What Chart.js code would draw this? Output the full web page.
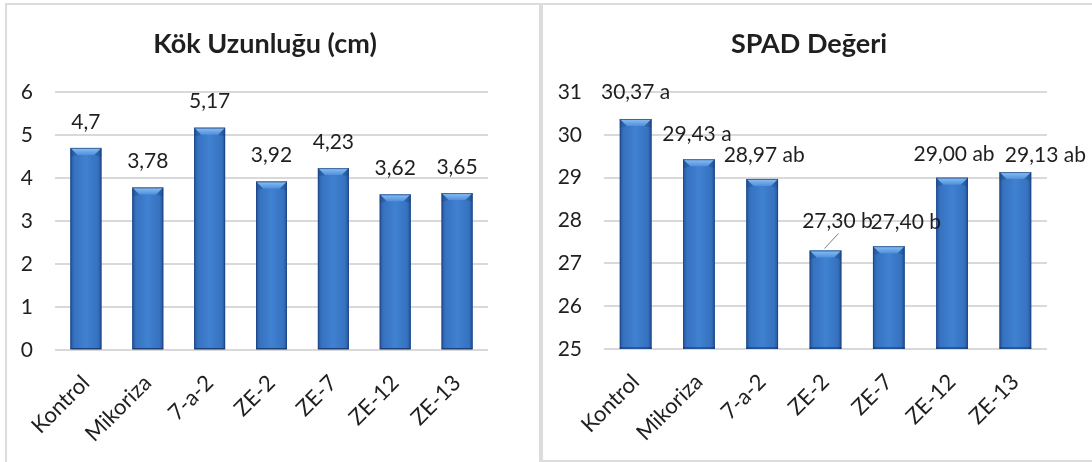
<!DOCTYPE html>
<html>
<head>
<meta charset="utf-8">
<script src="https://cdn.jsdelivr.net/npm/chart.js@4.4.1/dist/chart.umd.min.js"></script>
<style>
  html, body { margin: 0; padding: 0; background: #fff; width: 1092px; height: 462px; overflow: hidden; }
  .panel { position: absolute; top: 3px; border: 2px solid #dcdcdc; box-sizing: border-box; background: #fff; }
  #left { left: 5px; width: 536px; height: 480px; }
  #right { left: 541px; width: 580px; height: 459px; }
  canvas { position: absolute; left: 0; top: 0; display: block; }
</style>
</head>
<body>
<div class="panel" id="left"><canvas id="kok" width="532" height="457"></canvas></div>
<div class="panel" id="right"><canvas id="spad" width="549" height="454"></canvas></div>
<script>
const treatments = ['Kontrol', 'Mikoriza', '7-a-2', 'ZE-2', 'ZE-7', 'ZE-12', 'ZE-13'];
const rootLength = [4.7, 3.78, 5.17, 3.92, 4.23, 3.62, 3.65];
const spadValues = [30.37, 29.43, 28.97, 27.30, 27.40, 29.00, 29.13];
const spadGroups = ['a', 'a', 'ab', 'b', 'b', 'ab', 'ab'];
const kokTicks = [0, 1, 2, 3, 4, 5, 6];
const spadTicks = [25, 26, 27, 28, 29, 30, 31];

const FONT = 'Lato, "Open Sans", sans-serif';
const INK = '#1f1f1f';

// Excel-style bevelled column, painted over the rectangle Chart.js lays out
function paintBar(ctx, bar) {
  const l = bar.x - bar.width / 2, r = bar.x + bar.width / 2;
  const t = bar.y, b = bar.base, w = r - l;
  const bev = Math.min(7, (b - t) / 2);

  const body = ctx.createLinearGradient(l, 0, r, 0);
  body.addColorStop(0, '#25579f');
  body.addColorStop(0.12, '#3672c0');
  body.addColorStop(0.5, '#4081d1');
  body.addColorStop(0.88, '#3672c0');
  body.addColorStop(1, '#24549b');
  ctx.fillStyle = body;
  ctx.fillRect(l, t, w, b - t);

  const top = ctx.createLinearGradient(0, t, 0, t + bev);
  top.addColorStop(0, '#8dc1f3');
  top.addColorStop(1, '#4f8fdc');
  ctx.beginPath();
  ctx.moveTo(l, t); ctx.lineTo(r, t); ctx.lineTo(r - bev, t + bev); ctx.lineTo(l + bev, t + bev);
  ctx.closePath();
  ctx.fillStyle = top;
  ctx.fill();

  ctx.fillStyle = 'rgba(20, 50, 105, 0.25)';
  ctx.beginPath(); ctx.moveTo(l, t); ctx.lineTo(l + bev, t + bev); ctx.lineTo(l, t + bev + 2); ctx.closePath(); ctx.fill();
  ctx.beginPath(); ctx.moveTo(r, t); ctx.lineTo(r - bev, t + bev); ctx.lineTo(r, t + bev + 2); ctx.closePath(); ctx.fill();

  ctx.strokeStyle = 'rgba(28, 66, 125, 0.7)';
  ctx.lineWidth = 1;
  ctx.strokeRect(l + 0.5, t + 0.5, w - 1, b - t - 1);
}

const bevelPlugin = {
  id: 'bevel',
  afterDatasetsDraw(chart) {
    const ctx = chart.ctx;
    const a = chart.chartArea;
    ctx.save();
    ctx.beginPath();
    ctx.rect(a.left, a.top - 20, a.right - a.left, a.bottom - a.top + 20);
    ctx.clip();
    chart.getDatasetMeta(0).data.forEach(bar => paintBar(ctx, bar));
    // dark rim along the floor of every column
    ctx.fillStyle = 'rgba(18, 42, 85, 0.45)';
    chart.getDatasetMeta(0).data.forEach(bar => {
      ctx.fillRect(bar.x - bar.width / 2, a.bottom - 2, bar.width, 2);
    });
    ctx.restore();
  }
};

const valueLabelPlugin = {
  id: 'valueLabels',
  afterDatasetsDraw(chart, args, opts) {
    const ctx = chart.ctx;
    const ds = chart.data.datasets[0];
    ctx.save();
    ctx.font = '21px ' + FONT;
    ctx.fillStyle = INK;
    ctx.textAlign = 'center';
    ctx.textBaseline = 'middle';
    chart.getDatasetMeta(0).data.forEach((bar, i) => {
      const [dx, dy] = opts.offsets[i];
      const x = bar.x + dx, y = bar.y + dy;
      ctx.fillText(opts.format(ds.data[i], i), x, y);
      if (opts.leaders && opts.leaders.includes(i)) {
        ctx.strokeStyle = '#7f7f7f';
        ctx.lineWidth = 1;
        ctx.beginPath();
        ctx.moveTo(x + 1, y + 12);
        ctx.lineTo(bar.x - 1, bar.y - 2);
        ctx.stroke();
      }
    });
    ctx.restore();
  }
};

const headingPlugin = {
  id: 'heading',
  afterDraw(chart, args, opts) {
    const ctx = chart.ctx;
    ctx.save();
    ctx.font = 'bold 27px ' + FONT;
    ctx.fillStyle = INK;
    ctx.textAlign = 'center';
    ctx.textBaseline = 'alphabetic';
    ctx.fillText(opts.text, opts.x, opts.y);
    ctx.restore();
  }
};

function barChart(canvas, cfg) {
  return new Chart(canvas, {
    type: 'bar',
    data: {
      labels: treatments,
      datasets: [{
        data: cfg.values,
        backgroundColor: '#3a76c4',
        borderWidth: 0,
        barPercentage: 0.5,
        categoryPercentage: 1
      }]
    },
    options: {
      responsive: false,
      animation: false,
      layout: { padding: { top: 87, right: cfg.padRight, left: 0, bottom: 0 } },
      plugins: {
        legend: { display: false },
        tooltip: { enabled: false },
        heading: { text: cfg.title, x: cfg.titleX, y: 48 },
        valueLabels: { format: cfg.format, offsets: cfg.offsets, leaders: cfg.leaders }
      },
      scales: {
        x: {
          grid: { display: false },
          border: { display: false },
          ticks: {
            autoSkip: false, minRotation: 45, maxRotation: 45, padding: 12,
            color: INK, font: { family: FONT, size: 22 }
          },
          afterFit: s => { s.height = cfg.xHeight; }
        },
        y: {
          min: cfg.ticks[0],
          max: cfg.ticks[cfg.ticks.length - 1],
          afterBuildTicks: s => { s.ticks = cfg.ticks.map(v => ({ value: v })); },
          grid: { color: '#d9d9d9', lineWidth: 2, drawTicks: false },
          border: { display: false },
          ticks: { padding: 22, color: INK, font: { family: FONT, size: 21 } },
          afterFit: s => { s.width = cfg.yWidth; }
        }
      }
    },
    plugins: [bevelPlugin, valueLabelPlugin, headingPlugin]
  });
}

barChart(document.getElementById('kok'), {
  title: 'Kök Uzunluğu (cm)',
  titleX: 258,
  values: rootLength,
  ticks: kokTicks,
  yWidth: 48,
  padRight: 51,
  xHeight: 112,
  format: v => String(v).replace('.', ','),
  offsets: rootLength.map(() => [0, -26])
});

barChart(document.getElementById('spad'), {
  title: 'SPAD Değeri',
  titleX: 266,
  values: spadValues,
  ticks: spadTicks,
  yWidth: 61,
  padRight: 45,
  xHeight: 110,
  format: (v, i) => v.toFixed(2).replace('.', ',') + ' ' + spadGroups[i],
  offsets: [[0, -27], [-2, -25], [2, -24], [12, -29], [17, -24], [2, -23], [30, -17]],
  leaders: [3]
});
</script>
</body>
</html>
